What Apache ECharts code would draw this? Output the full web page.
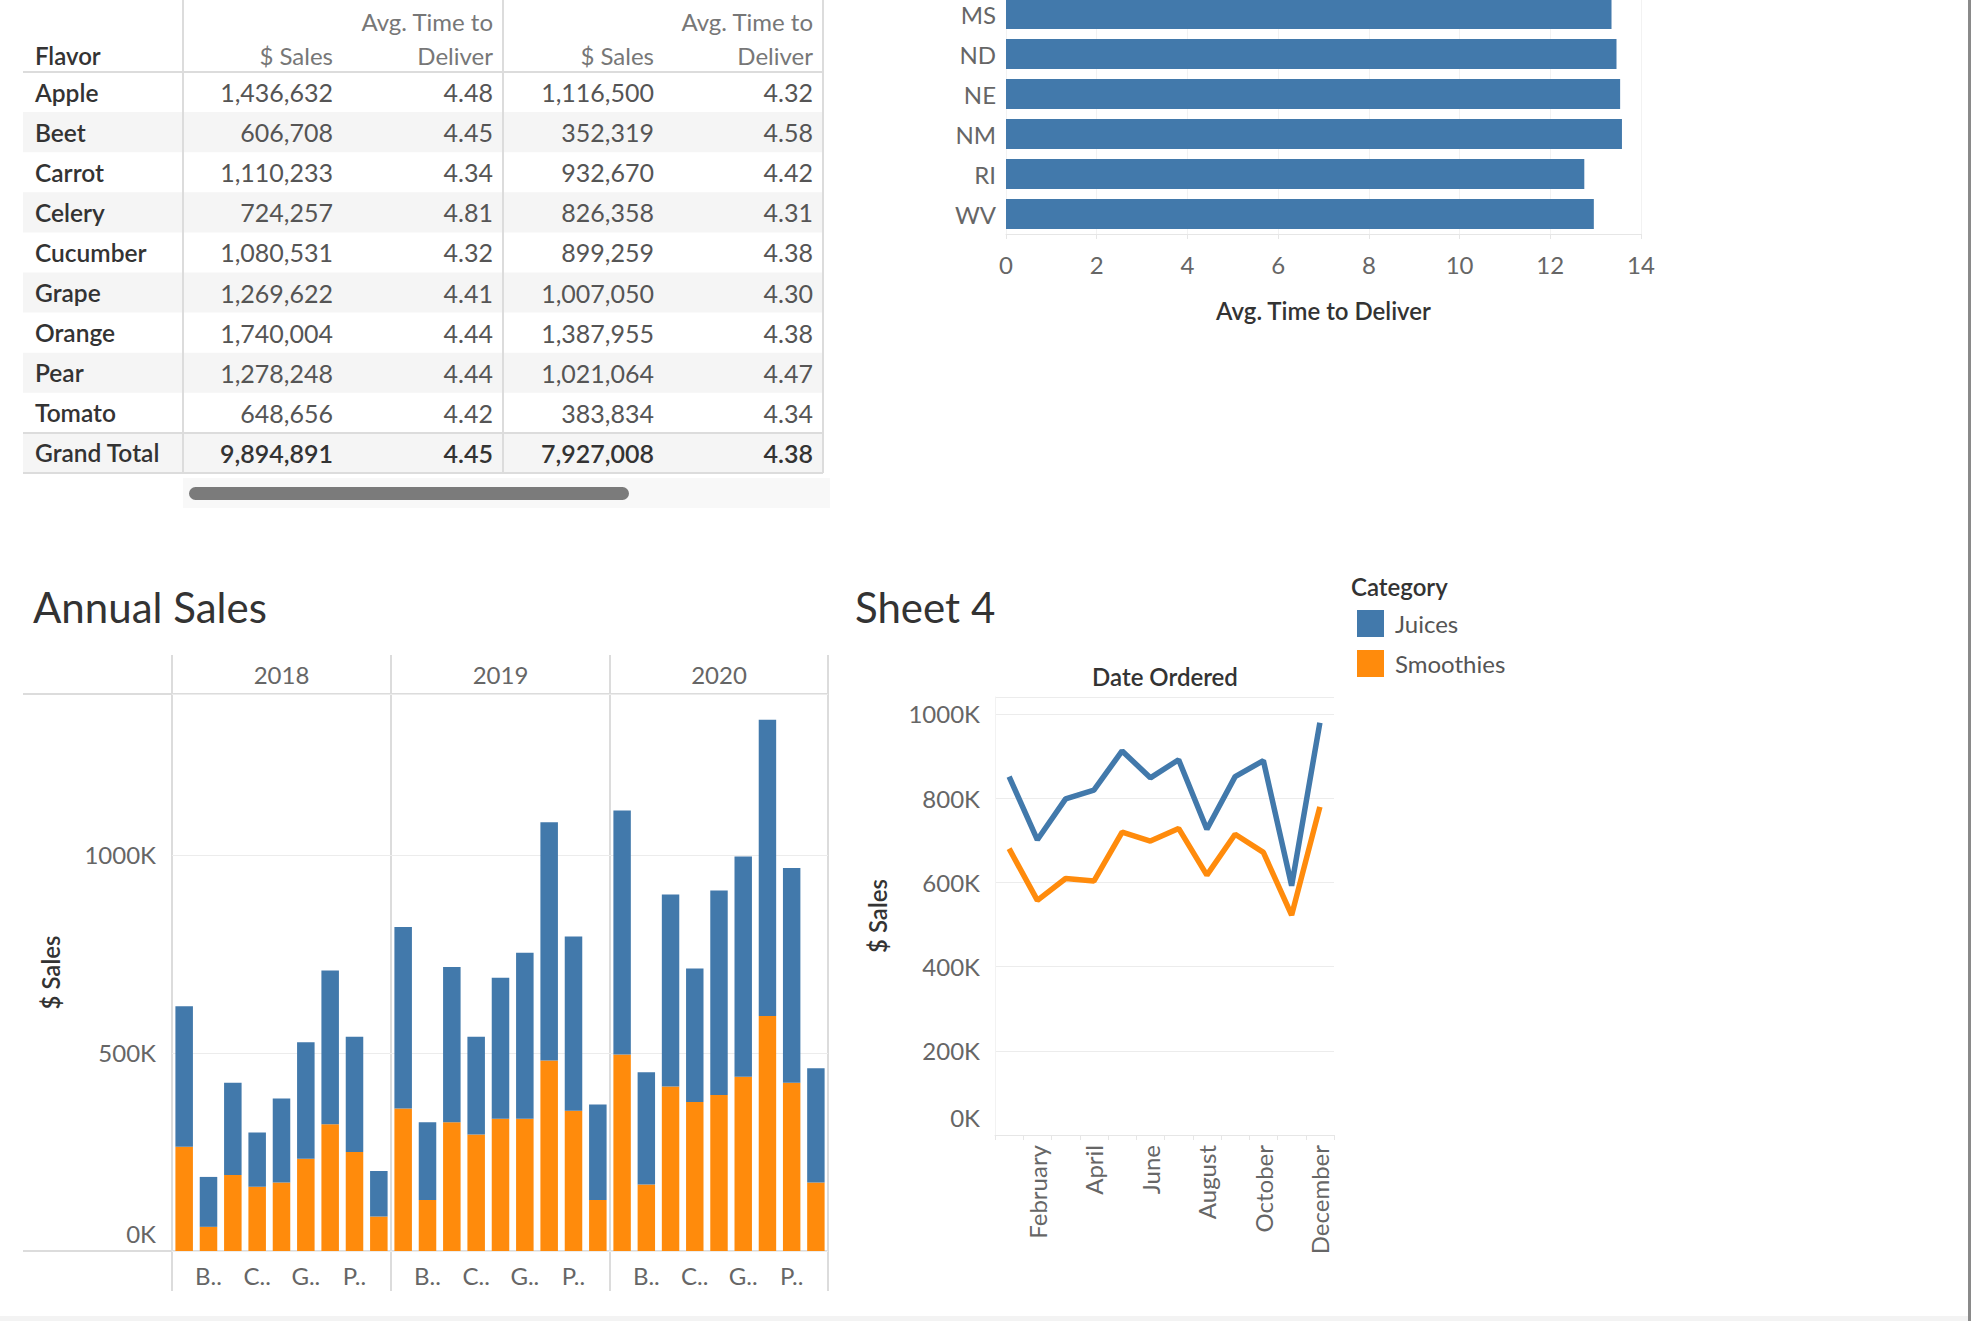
<!DOCTYPE html>
<html>
<head>
<meta charset="utf-8">
<title>Sales dashboard</title>
<script src="https://cdn.jsdelivr.net/npm/echarts@6/dist/echarts.min.js"></script>
<style>
    html, body { margin: 0; padding: 0; background: #ffffff; overflow: hidden; }
    #main { width: 1971px; height: 1321px; position: relative; }
    /* the state list is scrolled, so its chart starts a little above the page */
    #states { position: absolute; left: 0; top: -6px; width: 1971px; height: 340px; }
</style>
</head>
<body>
<div id="main"></div>
<div id="states"></div>
<script>
// table: sales and delivery time per flavor (Juices | Smoothies)
const flavors = ['Apple', 'Beet', 'Carrot', 'Celery', 'Cucumber', 'Grape', 'Orange', 'Pear', 'Tomato']
const juiceSales = [1436632, 606708, 1110233, 724257, 1080531, 1269622, 1740004, 1278248, 648656]
const juiceDeliver = [4.48, 4.45, 4.34, 4.81, 4.32, 4.41, 4.44, 4.44, 4.42]
const smoothieSales = [1116500, 352319, 932670, 826358, 899259, 1007050, 1387955, 1021064, 383834]
const smoothieDeliver = [4.32, 4.58, 4.42, 4.31, 4.38, 4.30, 4.38, 4.47, 4.34]
const grandTotal = [9894891, 4.45, 7927008, 4.38]

// avg time to deliver by state (the visible part of the list)
const states = ['MS', 'ND', 'NE', 'NM', 'RI', 'WV']
const stateDeliver = [13.35, 13.46, 13.54, 13.58, 12.75, 12.96]

// annual sales per flavor, in thousands
const years = ['2018', '2019', '2020']
const smoothies2018 = [263, 61, 192, 162, 173, 233, 320, 250, 87]
const juices2018 = [355, 126, 233, 137, 212, 294, 388, 291, 115]
const smoothies2019 = [360, 129, 325, 294, 334, 334, 481, 354, 129]
const juices2019 = [458, 196, 392, 247, 356, 419, 601, 440, 241]
const smoothies2020 = [496, 168, 415, 376, 394, 440, 593, 425, 173]
const juices2020 = [616, 283, 485, 337, 516, 556, 748, 542, 288]

// monthly sales, in thousands
const months = ['January', 'February', 'March', 'April', 'May', 'June', 'July', 'August', 'September', 'October', 'November', 'December']
const juicesMonthly = [851, 701, 798, 819, 912, 848, 891, 726, 851, 889, 592, 979]
const smoothiesMonthly = [680, 557, 609, 603, 719, 698, 728, 617, 714, 671, 522, 779]

const BLUE = '#4279ab'
const ORANGE = '#ff8b0c'
const FONT = 'Lato, "Open Sans", sans-serif'
const GRID_LINE = '#ececec'
const labelStyle = { color: '#666', fontSize: 24, fontFamily: FONT }
const nameStyle = { color: '#333', fontSize: 24, fontFamily: FONT, fontWeight: 600 }

var myChart = echarts.init(document.getElementById('main'), null, { renderer: 'svg' });
var statesChart = echarts.init(document.getElementById('states'), null, { renderer: 'svg' });

// ---------- table (drawn as graphic elements) ----------
const fmt = v => v.toLocaleString('en-US')
const tableRows = flavors.map((f, i) => [f, fmt(juiceSales[i]), juiceDeliver[i].toFixed(2), fmt(smoothieSales[i]), smoothieDeliver[i].toFixed(2)])
tableRows.push(['Grand Total', fmt(grandTotal[0]), grandTotal[1].toFixed(2), fmt(grandTotal[2]), grandTotal[3].toFixed(2)])

const T_LEFT = 23, T_RIGHT = 823, T_ROWHEAD = 183, T_GROUP = 503
const T_HEAD = 72, T_ROWH = 40.1
const colRight = [333, 493, 654, 813]
let tableGraphic = []
tableRows.forEach((row, i) => {
    const top = T_HEAD + i * T_ROWH
    const isTotal = i === tableRows.length - 1
    if (i % 2 === 1 || isTotal) {
        tableGraphic.push({ type: 'rect', shape: { x: T_LEFT, y: top, width: T_RIGHT - T_LEFT, height: T_ROWH }, style: { fill: '#f5f5f5' }, z: 1 })
    }
    const cy = top + T_ROWH / 2
    tableGraphic.push({ type: 'text', z: 3, style: { text: row[0], x: 35, y: cy, verticalAlign: 'middle', fontSize: 24.5, fontFamily: FONT, fontWeight: 600, fill: '#333' } })
    for (let c = 1; c < 5; c++) {
        tableGraphic.push({ type: 'text', z: 3, style: { text: row[c], x: colRight[c - 1], y: cy, align: 'right', verticalAlign: 'middle', fontSize: 25, fontFamily: FONT, fontWeight: isTotal ? 600 : 'normal', fill: isTotal ? '#333' : '#555' } })
    }
})
// headers
const headStyle = { fontSize: 24, fontFamily: FONT, fill: '#777', verticalAlign: 'middle' }
tableGraphic.push({ type: 'text', z: 3, style: Object.assign({}, headStyle, { text: 'Flavor', x: 35, y: 55, fill: '#333', fontWeight: 600 }) })
;[colRight[0], colRight[2]].forEach(x => {
    tableGraphic.push({ type: 'text', z: 3, style: Object.assign({}, headStyle, { text: '$ Sales', x: x, y: 55, align: 'right' }) })
})
;[colRight[1], colRight[3]].forEach(x => {
    tableGraphic.push({ type: 'text', z: 3, style: Object.assign({}, headStyle, { text: 'Avg. Time to', x: x, y: 21, align: 'right' }) })
    tableGraphic.push({ type: 'text', z: 3, style: Object.assign({}, headStyle, { text: 'Deliver', x: x, y: 55, align: 'right' }) })
})
const tBottom = T_HEAD + tableRows.length * T_ROWH
const lineStyle = { stroke: '#dcdcdc', lineWidth: 2 }
tableGraphic.push(
    { type: 'line', z: 2, shape: { x1: T_LEFT, y1: T_HEAD, x2: T_RIGHT, y2: T_HEAD }, style: lineStyle },
    { type: 'line', z: 2, shape: { x1: T_LEFT, y1: tBottom - T_ROWH, x2: T_RIGHT, y2: tBottom - T_ROWH }, style: lineStyle },
    { type: 'line', z: 2, shape: { x1: T_LEFT, y1: tBottom, x2: T_RIGHT, y2: tBottom }, style: lineStyle },
    { type: 'line', z: 2, shape: { x1: T_ROWHEAD, y1: 0, x2: T_ROWHEAD, y2: tBottom }, style: lineStyle },
    { type: 'line', z: 2, shape: { x1: T_GROUP, y1: 0, x2: T_GROUP, y2: tBottom }, style: lineStyle },
    { type: 'line', z: 2, shape: { x1: T_RIGHT, y1: 0, x2: T_RIGHT, y2: tBottom }, style: lineStyle },
    // scroll bar
    { type: 'rect', z: 1, shape: { x: T_ROWHEAD, y: tBottom + 5, width: 647, height: 30 }, style: { fill: '#f8f8f8' } },
    { type: 'rect', z: 2, shape: { x: 189, y: tBottom + 14, width: 440, height: 13, r: 6.5 }, style: { fill: '#7b7b7b' } }
)

// ---------- annual sales frame ----------
const A_TOP = 655, A_HEAD = 694, A_BASE = 1251, A_BOTTOM = 1291
const panelX = [172, 391, 610, 828]
let frameGraphic = [
    { type: 'line', shape: { x1: 23, y1: A_HEAD, x2: panelX[3], y2: A_HEAD }, style: lineStyle },
    { type: 'line', shape: { x1: 23, y1: A_BASE, x2: panelX[3], y2: A_BASE }, style: lineStyle }
]
panelX.forEach(x => frameGraphic.push({ type: 'line', shape: { x1: x, y1: A_TOP, x2: x, y2: A_BOTTOM }, style: lineStyle }))
// dashboard edges
frameGraphic.push(
    { type: 'rect', shape: { x: 0, y: 1316, width: 1971, height: 5 }, style: { fill: '#f3f3f3' } },
    { type: 'rect', shape: { x: 1968, y: 0, width: 3, height: 1321 }, style: { fill: '#8a8a8a' } }
)

const yearSmoothies = [smoothies2018, smoothies2019, smoothies2020]
const yearJuices = [juices2018, juices2019, juices2020]
// Tableau lifts the 0K label above the baseline
const kLabel = v => v === 0 ? '{z|0K}' : v + 'K'
const kRich = { z: { color: '#666', fontSize: 24, fontFamily: FONT, padding: [0, 0, 36, 0] } }

let grids = []
let xAxes = []
let yAxes = []
let series = []

years.forEach((yr, k) => {
    const gi = grids.length
    grids.push({ left: panelX[k], width: panelX[k + 1] - panelX[k], top: A_HEAD, height: A_BASE - A_HEAD })
    xAxes.push({
        gridIndex: gi, type: 'category', data: flavors,
        axisLine: { show: false }, axisTick: { show: false },
        axisLabel: Object.assign({ margin: 12, interval: (i) => i % 2 === 1, formatter: v => v[0] + '..' }, labelStyle)
    })
    xAxes.push({
        gridIndex: gi, type: 'category', data: [yr], position: 'top',
        axisLine: { show: false }, axisTick: { show: false },
        axisLabel: Object.assign({ margin: 8 }, labelStyle)
    })
    yAxes.push({
        gridIndex: gi, type: 'value', min: 0, max: 1406, interval: 500,
        name: k === 0 ? '$ Sales' : '', nameLocation: 'middle', nameGap: 110, nameRotate: 90,
        nameTextStyle: nameStyle,
        axisLine: { show: false }, axisTick: { show: false },
        axisLabel: Object.assign({ show: k === 0, margin: 16, showMaxLabel: false, formatter: kLabel, rich: kRich }, labelStyle),
        splitLine: { show: true, lineStyle: { color: GRID_LINE } }
    })
    const xi = xAxes.length - 2, yi = yAxes.length - 1
    series.push({
        type: 'bar', name: 'Smoothies', stack: 'y' + yr, xAxisIndex: xi, yAxisIndex: yi,
        data: yearSmoothies[k], barCategoryGap: '28%', itemStyle: { color: ORANGE }
    })
    series.push({
        type: 'bar', name: 'Juices', stack: 'y' + yr, xAxisIndex: xi, yAxisIndex: yi,
        data: yearJuices[k], barCategoryGap: '28%', itemStyle: { color: BLUE }
    })
})

// Sheet 4 line chart
const lgi = grids.length
grids.push({ left: 995, width: 339, top: 697, height: 438 })
xAxes.push({
    gridIndex: lgi, type: 'category', data: months, boundaryGap: true,
    axisLine: { show: true, lineStyle: { color: '#e6e6e6' } },
    axisTick: { show: true, interval: 0, length: 5, lineStyle: { color: '#e6e6e6' } },
    axisLabel: Object.assign({ rotate: 90, margin: 10, interval: (i) => i % 2 === 1 }, labelStyle)
})
yAxes.push({
    gridIndex: lgi, type: 'value', min: 0, max: 1040, interval: 200,
    name: '$ Sales', nameLocation: 'middle', nameGap: 106, nameRotate: 90,
    nameTextStyle: nameStyle,
    axisLine: { show: true, lineStyle: { color: '#f2f2f2' } }, axisTick: { show: false },
    axisLabel: Object.assign({ margin: 15, showMaxLabel: false, formatter: kLabel, rich: kRich }, labelStyle),
    splitLine: { show: true, lineStyle: { color: GRID_LINE } }
})
series.push({
    type: 'line', name: 'Juices', xAxisIndex: xAxes.length - 1, yAxisIndex: yAxes.length - 1,
    data: juicesMonthly, symbol: 'none', lineStyle: { width: 5.5, color: BLUE }, itemStyle: { color: BLUE }
})
series.push({
    type: 'line', name: 'Smoothies', xAxisIndex: xAxes.length - 1, yAxisIndex: yAxes.length - 1,
    data: smoothiesMonthly, symbol: 'none', lineStyle: { width: 5.5, color: ORANGE }, itemStyle: { color: ORANGE }
})

const titleStyle = { fontSize: 42, fontWeight: 'normal', color: '#333', fontFamily: FONT }
let option = {
    animation: false,
    backgroundColor: '#ffffff',
    title: [
        { text: 'Annual Sales', left: 28, top: 581, textStyle: titleStyle },
        { text: 'Sheet 4', left: 850, top: 581, textStyle: titleStyle },
        { text: 'Date Ordered', left: 1160, top: 659, textAlign: 'center', textStyle: nameStyle },
        { text: 'Category', left: 1346, top: 569, textStyle: nameStyle }
    ],
    legend: {
        data: ['Juices', 'Smoothies'], orient: 'vertical', left: 1352, top: 605,
        icon: 'rect', itemWidth: 27, itemHeight: 27, itemGap: 13,
        textStyle: { color: '#555', fontSize: 24, fontFamily: FONT, padding: [0, 0, 0, 6] }
    },
    grid: grids,
    xAxis: xAxes,
    yAxis: yAxes,
    series: series,
    graphic: tableGraphic.concat(frameGraphic)
}
myChart.setOption(option);

// ---------- avg time to deliver by state (top right) ----------
let statesOption = {
    animation: false,
    grid: { left: 1006, width: 635, top: 0, height: 240 },
    xAxis: {
        type: 'value', min: 0, max: 14, interval: 2,
        name: 'Avg. Time to Deliver', nameLocation: 'middle', nameGap: 64,
        nameTextStyle: nameStyle,
        axisLine: { show: true, lineStyle: { color: '#e6e6e6' } },
        axisTick: { show: true, length: 5, lineStyle: { color: '#e6e6e6' } },
        axisLabel: Object.assign({ margin: 18 }, labelStyle),
        splitLine: { show: true, lineStyle: { color: '#f2f2f2' } }
    },
    yAxis: {
        type: 'category', data: states, inverse: true,
        axisLine: { show: false }, axisTick: { show: false },
        axisLabel: Object.assign({ margin: 10 }, labelStyle)
    },
    series: [{
        type: 'bar', name: 'Juices', data: stateDeliver,
        barCategoryGap: '25%', itemStyle: { color: BLUE }
    }]
}
statesChart.setOption(statesOption);
</script>
</body>
</html>
